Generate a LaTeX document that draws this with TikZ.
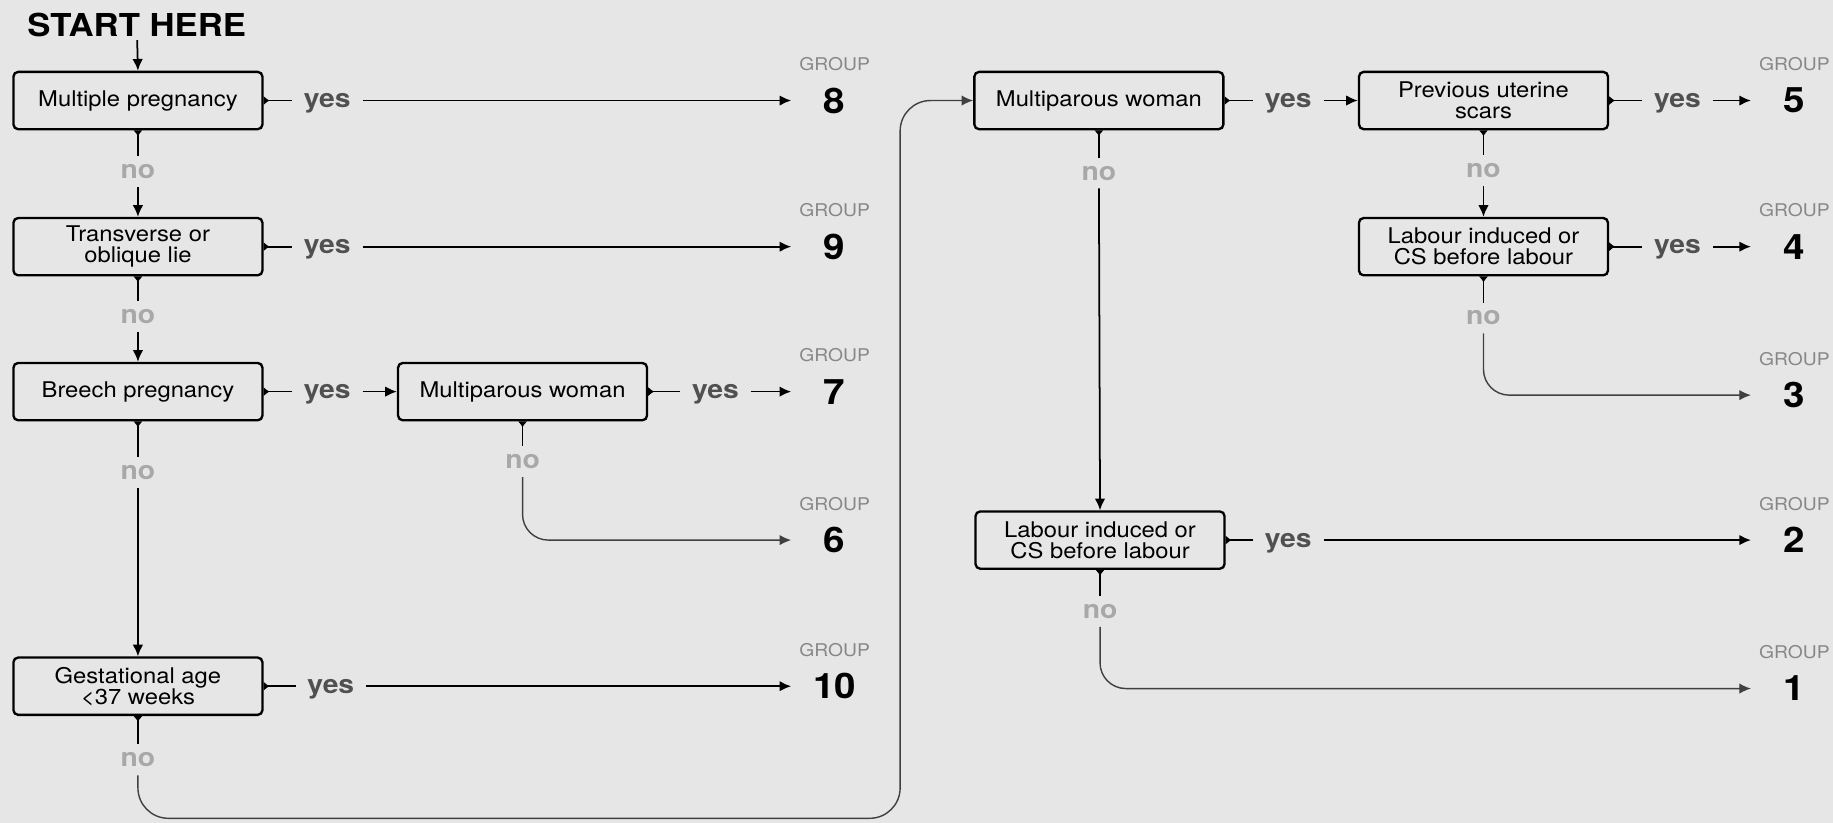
\documentclass[tikz,border=0pt]{standalone}
\usepackage{fontspec}
\setmainfont[FakeStretch=1.1]{TeX Gyre Heros}
\definecolor{bggray}{RGB}{230,230,230}
\definecolor{yesgray}{RGB}{80,80,80}
\definecolor{nogray}{RGB}{168,168,168}
\definecolor{grpgray}{RGB}{135,135,135}
\usetikzlibrary{arrows.meta,positioning,calc}

\begin{document}
\begin{tikzpicture}[x=1pt, y=-1pt,
    box/.style={draw, line width=2pt, rounded corners=4pt, fill=bggray,
      minimum width=213pt, minimum height=49pt, inner sep=2pt, align=center,
      font=\fontsize{18.5}{18}\selectfont},
    yeslbl/.style={font=\fontsize{22}{22}\selectfont\bfseries, text=yesgray,
      text height=12pt, text depth=0pt, inner xsep=10pt},
    nolbl/.style={font=\fontsize{22}{22}\selectfont\bfseries, text=nogray,
      text height=12pt, text depth=0pt, inner ysep=7pt, inner xsep=2pt},
    grpnum/.style={font=\fontsize{30}{30}\selectfont\bfseries,
      minimum width=74pt, inner sep=0pt},
    grplbl/.style={font=\fontsize{15}{15}\selectfont, text=grpgray},
    stem/.style={{Latex[reversed,length=5pt,width=8pt]}-, line width=1.5pt},
    link/.style={-{Latex[length=10pt,width=9pt]}, line width=1.5pt},
    turnline/.style={link, rounded corners=22pt, line width=1.2pt, black!75}
  ]
  \fill[bggray] (0,0) rectangle (1568,704);
  \useasboundingbox (0,0) rectangle (1568,704);

  % Start
  \node[font=\fontsize{27}{27}\selectfont\bfseries, inner sep=3pt] (start) at (117,21) {START HERE};

  % Questions
  \node[box] (q1) at (118,86)  {Multiple pregnancy};
  \node[box] (q2) at (118,211) {Transverse or\\oblique lie};
  \node[box] (q3) at (118,335) {Breech pregnancy};
  \node[box] (q4) at (447,335) {Multiparous woman};
  \node[box] (q5) at (118,587) {Gestational age\\<37 weeks};
  \node[box] (q6) at (940,86)  {Multiparous woman};
  \node[box] (q7) at (1269,86) {Previous uterine\\scars};
  \node[box] (q8) at (1269,211) {Labour induced or\\CS before labour};
  \node[box] (q9) at (941,462) {Labour induced or\\CS before labour};

  % Groups
  \foreach \n/\x/\y in {8/714/86, 9/714/211, 7/714/335, 6/714/462, 10/714/587,
                        5/1535/86, 4/1535/211, 3/1535/338, 2/1535/462, 1/1535/589}{
    \node[grpnum] (g\n) at (\x,\y) {\n};
    \node[grplbl] (h\n) at (\x,\y-31) {GROUP};
  }

  % yes labels
  \node[yeslbl] (y1) at (280,86)   {yes};
  \node[yeslbl] (y2) at (280,211)  {yes};
  \node[yeslbl] (y3) at (280,335)  {yes};
  \node[yeslbl] (y4) at (612,335)  {yes};
  \node[yeslbl] (y5) at (283,587)  {yes};
  \node[yeslbl] (y6) at (1102,86)  {yes};
  \node[yeslbl] (y7) at (1435,86)  {yes};
  \node[yeslbl] (y8) at (1435,211) {yes};
  \node[yeslbl] (y9) at (1102,462) {yes};

  % no labels
  \node[nolbl] (n1) at (118,147)  {no};
  \node[nolbl] (n2) at (118,271)  {no};
  \node[nolbl] (n3) at (118,404)  {no};
  \node[nolbl] (n4) at (447,395)  {no};
  \node[nolbl] (n5) at (118,650)  {no};
  \node[nolbl] (n6) at (940,148)  {no};
  \node[nolbl] (n7) at (1269,146) {no};
  \node[nolbl] (n8) at (1269,272) {no};
  \node[nolbl] (n9) at (941,523)  {no};
  \coordinate (loopc) at (770,700);

  \draw[link] (start) -- (q1.north);

  % yes branches
  \foreach \q/\y/\t in {q1/y1/g8, q2/y2/g9, q3/y3/q4, q4/y4/g7, q5/y5/g10,
                        q6/y6/q7, q7/y7/g5, q8/y8/g4, q9/y9/g2}{
    \draw[stem] (\q.east) -- (\y.west);
    \draw[link] (\y.east) -- (\t.west);
  }

  % no branches
  \foreach \q/\n in {q1/n1, q2/n2, q3/n3, q4/n4, q5/n5, q6/n6, q7/n7, q8/n8, q9/n9}
    \draw[stem] (\q.south) -- (\n.north);
  \draw[link] (n1) -- (q2.north);
  \draw[link] (n2) -- (q3.north);
  \draw[link] (n3) -- (q5.north);
  \draw[link] (n6) -- (q9.north);
  \draw[link] (n7) -- (q8.north);
  \draw[turnline] (n4.south) |- (g6.west);
  \draw[turnline] (n8.south) |- (g3.west);
  \draw[turnline] (n9.south) |- (g1.west);
  \draw[turnline, rounded corners=26pt] (n5.south) |- (loopc) |- (q6.west);
\end{tikzpicture}
\end{document}
